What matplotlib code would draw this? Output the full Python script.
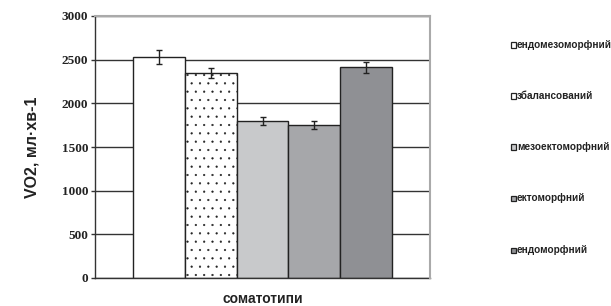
import matplotlib
matplotlib.use("Agg")
import matplotlib.pyplot as plt
from matplotlib.patches import Rectangle
from matplotlib.font_manager import FontProperties

categories = ["ендомезоморфний", "збалансований", "мезоектоморфний", "ектоморфний", "ендоморфний"]
values = [2535, 2350, 1795, 1755, 2415]
errors = [80, 60, 45, 45, 63]
colors = ["#ffffff", "#ffffff", "#c8c9cb", "#a6a7aa", "#8f9094"]
hatches = [None, "..", None, None, None]
yticks = [0, 500, 1000, 1500, 2000, 2500, 3000]

plt.rcParams['hatch.linewidth'] = 0.35
plt.rcParams['hatch.color'] = "#333333"

fig = plt.figure(figsize=(6.11, 3.06), dpi=100)
ax = fig.add_axes([95/611, 28/306, 335/611, 262/306])

x = list(range(len(values)))
for i, (v, c, h) in enumerate(zip(values, colors, hatches)):
    ax.bar(i, v, width=1.0, color=c, edgecolor="#222222", linewidth=1.0,
           hatch=h, zorder=2)
ax.errorbar(x, values, yerr=errors, fmt="none", ecolor="#222222",
            elinewidth=1.0, capsize=2.5, capthick=1.0, zorder=3)

ax.set_xlim(-1.23, 5.23)
ax.set_ylim(0, 3000)
ax.set_yticks(yticks)
serif_bold = FontProperties(family="Liberation Serif", weight="bold", size=9.5)
ax.set_yticklabels([str(t) for t in yticks], fontproperties=serif_bold,
                   color="#222222")
ax.set_xticks([])
ax.yaxis.grid(True, color="#333333", linewidth=1.0, zorder=0)
ax.set_axisbelow(True)
ax.tick_params(axis="y", length=3, width=1, color="#333333", pad=2)
for s in ["left", "bottom"]:
    ax.spines[s].set_color("#333333")
    ax.spines[s].set_linewidth(1.0)
for s in ["top", "right"]:
    ax.spines[s].set_color("#aaaaaa")
    ax.spines[s].set_linewidth(1.5)
    ax.spines[s].set_zorder(4)

ax.set_ylabel("VO2, мл·хв-1", family="Liberation Sans", fontweight="bold",
              fontsize=11.5, labelpad=16, color="#222222")
ax.set_xlabel("соматотипи", family="Liberation Sans", fontweight="bold",
              fontsize=10, labelpad=10, color="#222222")

ys = [45, 96, 147, 198, 250]
for lab, c, yy in zip(categories, colors, ys):
    fig.patches.append(Rectangle((511/611, (306 - yy - 2.5)/306), 5/611, 5/306,
                                 transform=fig.transFigure, facecolor=c,
                                 edgecolor="#222222", linewidth=0.9))
    fig.text(517/611, (306 - yy)/306, lab, family="Liberation Sans",
             fontweight="bold", fontsize=7.2, va="center", ha="left",
             color="#222222")

fig.savefig("out.png", dpi=100)
